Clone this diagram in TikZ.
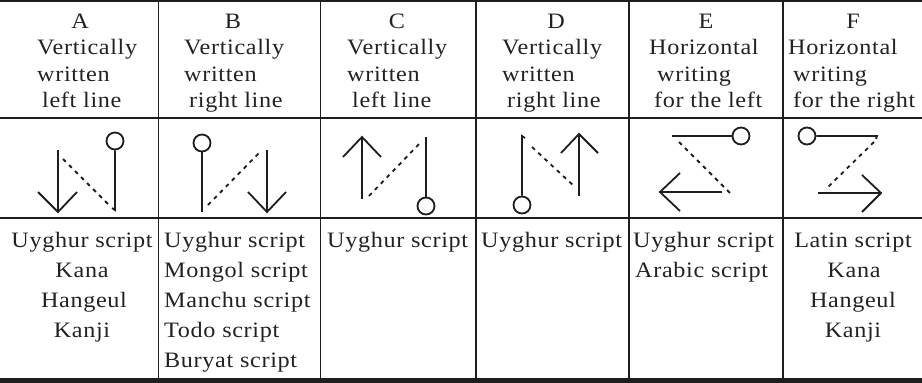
\documentclass[tikz,border=0pt]{standalone}
\usepackage{fontspec}
\setmainfont{Liberation Serif}[LetterSpace=3,FakeStretch=1.1]
\definecolor{ink}{HTML}{1E1E1E}
\definecolor{textc}{HTML}{222222}
\begin{document}
\begin{tikzpicture}[x=1pt,y=-1pt,
  txt/.style={font=\fontsize{22}{26}\selectfont, inner sep=0pt, text=textc},
  hl/.style={txt, anchor=base west},
  hc/.style={txt, anchor=base},
  rule/.style={draw=ink, line width=1.2pt},
  sym/.style={draw=ink, line width=1.8pt, line cap=butt, line join=miter},
  dashedsym/.style={draw=ink, line width=1.8pt, dash pattern=on 4pt off 4.5pt},
  dot/.style={circle, draw=ink, line width=1.8pt, minimum size=17pt, inner sep=0pt},
]
\useasboundingbox (0,0) rectangle (922,383);
% table rules
\draw[draw=ink, line width=2pt] (0,1) -- (922,1);
\draw[rule] (0,118) -- (922,118);
\draw[rule] (0,218) -- (922,218);
\draw[draw=ink, line width=5pt] (0,380) -- (922,380);
\foreach \x in {158.5,320.5,476,629,783}
  \draw[rule] (\x,1) -- (\x,377.5);

% header A
\node[hc] (ha0) at (80,28) {A};
\node[hl] (ha1) at (37,54.5) {Vertically};
\node[hl] (ha2) at (37,81) {written};
\node[hl] (ha3) at (42,107.5) {left line};
% header B
\node[hc] (hb0) at (233,28) {B};
\node[hl] (hb1) at (184,54.5) {Vertically};
\node[hl] (hb2) at (184,81) {written};
\node[hl] (hb3) at (189,107.5) {right line};
% header C
\node[hc] (hc0) at (397,28) {C};
\node[hl] (hc1) at (347,54.5) {Vertically};
\node[hl] (hc2) at (347,81) {written};
\node[hl] (hc3) at (352,107.5) {left line};
% header D
\node[hc] (hd0) at (556,28) {D};
\node[hl] (hd1) at (502,54.5) {Vertically};
\node[hl] (hd2) at (502,81) {written};
\node[hl] (hd3) at (507,107.5) {right line};
% header E
\node[hc] (he0) at (706,28) {E};
\node[hl] (he1) at (649,54.5) {Horizontal};
\node[hl] (he2) at (657,81) {writing};
\node[hl] (he3) at (654,107.5) {for the left};
% header F
\node[hc] (hf0) at (853,28) {F};
\node[hl] (hf1) at (788,54.5) {Horizontal};
\node[hl] (hf2) at (793,81) {writing};
\node[hl] (hf3) at (793,107.5) {for the right};

% ---- symbols ----
% A
\node[dot] (ca) at (115,141) {};
\coordinate (ae) at (115,210);
\draw[sym] (ca) -- (ae) -- ++(-3,-2);
\draw[sym] (58,150) -- (58,212);
\draw[sym] (38,192) -- (58,212) -- (77,192);
\draw[dashedsym] (63,159) -- (111,207);
% B
\node[dot] (cb) at (202,143) {};
\coordinate (be) at (202,212);
\draw[sym] (cb) -- (be);
\draw[dashedsym] (208,205) -- (259,153);
\draw[sym] (267,150) -- (267,212);
\draw[sym] (248,192) -- (267,212) -- (286,192);
% C
\draw[sym] (362,199) -- (362,137);
\draw[sym] (343,157) -- (362,137) -- (381,157);
\draw[dashedsym] (369,196) -- (420,143);
\node[dot] (cc) at (426,206) {};
\coordinate (ce) at (426,137);
\draw[sym] (cc) -- (ce);
% D
\node[dot] (cd) at (522,205) {};
\coordinate (de) at (522,136);
\draw[sym] (cd) -- (de) -- ++(3,2);
\draw[dashedsym] (532,147) -- (575,187);
\draw[sym] (579,196) -- (579,134);
\draw[sym] (561,153) -- (579,134) -- (598,153);
% E
\node[dot] (ce2) at (741,136) {};
\coordinate (ee) at (672,136);
\draw[sym] (ce2) -- (ee);
\draw[dashedsym] (679,142) -- (730,193);
\draw[sym] (722,192) -- (660,192);
\draw[sym] (680,173) -- (660,192) -- (680,211);
% F
\node[dot] (cf) at (807,136) {};
\coordinate (fe) at (877,136);
\draw[sym] (cf) -- (fe) -- ++(-1,3);
\draw[dashedsym] (874,142) -- (827,188);
\draw[sym] (818,193) -- (881,193);
\draw[sym] (862,175) -- (881,193) -- (862,212);

% ---- contents ----
\node[hc] (a1) at (82,247) {Uyghur script};
\node[hc] (a2) at (82,277) {Kana};
\node[hc] (a3) at (84,307) {Hangeul};
\node[hc] (a4) at (82,337) {Kanji};
\node[hl] (b1) at (164,247) {Uyghur script};
\node[hl] (b2) at (164,277) {Mongol script};
\node[hl] (b3) at (164,307) {Manchu script};
\node[hl] (b4) at (164,337) {Todo script};
\node[hl] (b5) at (164,367) {Buryat script};
\node[hl] (c1) at (327,247) {Uyghur script};
\node[hl] (d1) at (481,247) {Uyghur script};
\node[hl] (e1) at (633,247) {Uyghur script};
\node[hl] (e2) at (635,277) {Arabic script};
\node[hc] (f1) at (853,247) {Latin script};
\node[hc] (f2) at (854,277) {Kana};
\node[hc] (f3) at (853,307) {Hangeul};
\node[hc] (f4) at (853,337) {Kanji};
\end{tikzpicture}
\end{document}
